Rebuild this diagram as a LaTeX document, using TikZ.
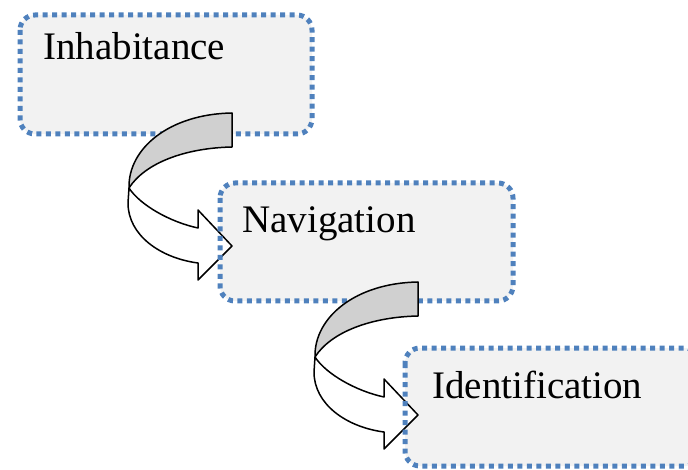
\documentclass[tikz,border=0pt]{standalone}
\usepackage{fontspec}
\setmainfont{Liberation Serif}
\definecolor{dotblue}{HTML}{4F81BD}
\definecolor{boxfill}{HTML}{F2F2F2}
\definecolor{bandgray}{RGB}{208,208,208}
\tikzset{
  boxfill/.style={fill=boxfill, draw=none, rounded corners=15pt},
  boxborder/.style={draw=dotblue, line width=5pt, dash pattern=on 5pt off 4.5pt, rounded corners=15pt},
  label/.style={anchor=base west, inner sep=0pt, font=\fontsize{39}{39}\selectfont},
  band/.style={draw=black, line width=1.5pt, line join=round},
  pics/curvedarrow/.style={code={
    \path[band, fill=bandgray] (232,113) .. controls (170,114) and (128,148) .. (129,188)
       .. controls (145,163) and (185,148) .. (232,147) -- cycle;
    \path[band, fill=white] (129,188) .. controls (140,205) and (170,222) .. (198,228)
       -- (198,210) -- (232,246) -- (198,280) -- (198,263)
       .. controls (160,258) and (128,235) .. (128,203) -- cycle;
  }}
}
\begin{document}
\begin{tikzpicture}[x=1pt,y=-1pt]
\useasboundingbox (0,0) rectangle (688,470);
\begin{scope}
\clip (0,0) rectangle (688,470);
% box 1
\path[boxfill] (20,15) rectangle (312,134);
\path[boxborder] (20,15) rectangle (312,134);
\node[label] (inh) at (43,60) {Inhabitance};
% box 2 fill
\path[boxfill] (220,183) rectangle (513,301);
% arrow 1
\pic at (0,0) {curvedarrow};
\path[boxborder] (220,183) rectangle (513,301);
\node[label] (nav) at (242,233) {Navigation};
% box 3 fill
\path[boxfill] (405,348) rectangle (700,466);
% arrow 2
\pic at (186,169) {curvedarrow};
\path[boxborder] (405,348) rectangle (700,466);
\node[label] (ide) at (432,398) {Identification};
\end{scope}
\end{tikzpicture}
\end{document}
